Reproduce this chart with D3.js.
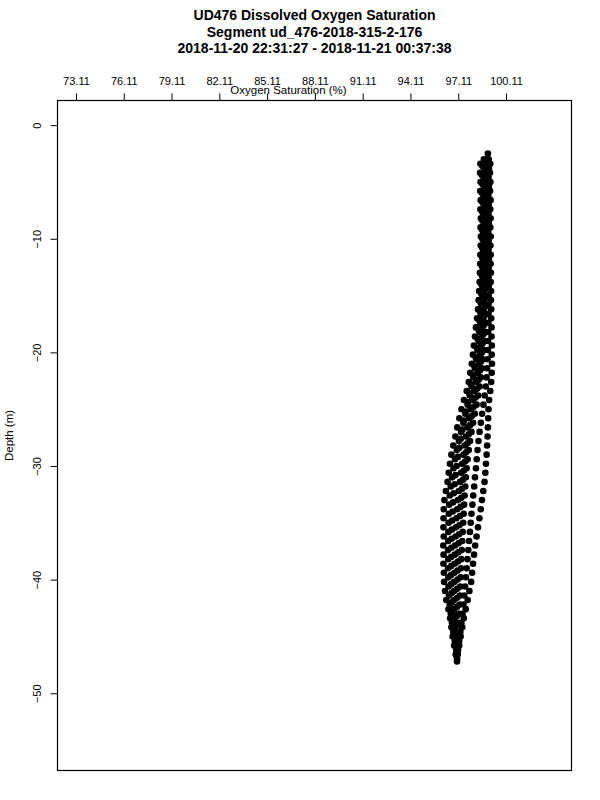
<!DOCTYPE html>
<html>
<head>
<meta charset="utf-8">
<script src="https://cdn.jsdelivr.net/npm/d3@7"></script>
<style>
  body { margin: 0; background: #fff; }
  svg { font-family: "Liberation Sans", Arial, Helvetica, sans-serif; }
  .axis text { font-size: 11px; fill: #000; }
  .axis line { stroke: #000; }
</style>
</head>
<body>
<script>
var width = 600;
var height = 800;
var margin = {top: 100.5, right: 28.5, bottom: 29.5, left: 57.5};

var titleLines = ["UD476 Dissolved Oxygen Saturation",
                  "Segment ud_476-2018-315-2-176",
                  "2018-11-20 22:31:27 - 2018-11-21 00:37:38"];
var xLabel = "Oxygen Saturation (%)";
var yLabel = "Depth (m)";
var xTicks = [73.11, 76.11, 79.11, 82.11, 85.11, 88.11, 91.11, 94.11, 97.11, 100.11];
var yTicks = [0, -10, -20, -30, -40, -50];
var xRange = [71.95, 104.22];
var yRange = [2.17, -56.8];

// each cast: [depth, saturation]
var castA = [[-3.4,98.50],[-4.2,98.48],[-5.0,98.51],[-5.8,98.49],[-6.6,98.52],[-7.4,98.50],[-8.2,98.53],[-9.0,98.51],
  [-9.8,98.53],[-10.6,98.52],[-11.4,98.50],[-12.2,98.49],[-13.0,98.47],[-13.8,98.45],[-14.6,98.42],[-15.4,98.39],
  [-16.2,98.35],[-17.0,98.29],[-17.8,98.22],[-18.6,98.16],[-19.4,98.09],[-20.2,98.03],[-21.0,97.96],[-21.8,97.86],
  [-22.6,97.77],[-23.4,97.64],[-24.2,97.47],[-25.0,97.31],[-25.8,97.18],[-26.6,97.05],[-27.4,96.93],[-28.2,96.80],
  [-29.0,96.68],[-29.8,96.59],[-30.6,96.51],[-31.4,96.44],[-32.2,96.33],[-33.0,96.24],[-33.8,96.20],[-34.6,96.19],
  [-35.4,96.18],[-36.2,96.20],[-37.0,96.17],[-37.8,96.19],[-38.6,96.18],[-39.4,96.21],[-40.2,96.22],[-41.0,96.28],
  [-41.8,96.36],[-42.6,96.50],[-43.4,96.60],[-44.2,96.68],[-45.0,96.76],[-45.8,96.85],[-46.6,96.95],[-47.2,97.03]];

var castB = [[-3.0,98.72],[-3.8,98.74],[-4.6,98.71],[-5.4,98.73],[-6.2,98.70],[-7.0,98.72],[-7.8,98.69],[-8.6,98.71],
  [-9.4,98.68],[-10.2,98.70],[-11.0,98.68],[-11.8,98.67],[-12.6,98.66],[-13.4,98.65],[-14.2,98.63],[-15.0,98.61],
  [-15.8,98.57],[-16.6,98.53],[-17.4,98.49],[-18.2,98.45],[-19.0,98.39],[-19.8,98.32],[-20.6,98.25],[-21.4,98.16],
  [-22.2,98.06],[-23.0,97.95],[-23.8,97.83],[-24.6,97.70],[-25.4,97.56],[-26.2,97.43],[-27.0,97.29],[-27.8,97.15],
  [-28.6,97.02],[-29.4,96.91],[-30.2,96.81],[-31.0,96.72],[-31.8,96.64],[-32.6,96.58],[-33.4,96.54],[-34.2,96.52],
  [-35.0,96.50],[-35.8,96.49],[-36.6,96.48],[-37.4,96.47],[-38.2,96.48],[-39.0,96.47],[-39.8,96.49],[-40.6,96.50],
  [-41.4,96.53],[-42.2,96.58],[-43.0,96.64],[-43.8,96.71],[-44.6,96.80],[-45.4,96.89],[-46.2,96.98]];

var castC = [[-3.4,98.84],[-4.2,98.82],[-5.0,98.84],[-5.8,98.81],[-6.6,98.83],[-7.4,98.80],[-8.2,98.82],[-9.0,98.79],
  [-9.8,98.81],[-10.6,98.79],[-11.4,98.78],[-12.2,98.78],[-13.0,98.77],[-13.8,98.76],[-14.6,98.75],[-15.4,98.73],
  [-16.2,98.70],[-17.0,98.67],[-17.8,98.63],[-18.6,98.59],[-19.4,98.54],[-20.2,98.49],[-21.0,98.42],[-21.8,98.34],
  [-22.6,98.24],[-23.4,98.12],[-24.2,98.00],[-25.0,97.89],[-25.8,97.78],[-26.6,97.69],[-27.4,97.60],[-28.2,97.52],
  [-29.0,97.44],[-29.8,97.36],[-30.6,97.29],[-31.4,97.22],[-32.2,97.15],[-33.0,97.09],[-33.8,97.04],[-34.6,97.00],
  [-35.4,96.97],[-36.2,96.94],[-37.0,96.91],[-37.8,96.89],[-38.6,96.88],[-39.4,96.87],[-40.2,96.86],[-41.0,96.85],
  [-41.8,96.85],[-42.6,96.86],[-43.4,96.88],[-44.2,96.91],[-45.0,96.95],[-45.8,96.99],[-46.6,97.03]];

var castD = [[-2.5,98.97],[-3.0,98.95],[-3.8,98.93],[-4.6,98.95],[-5.4,98.92],[-6.2,98.94],[-7.0,98.91],[-7.8,98.93],
  [-8.6,98.90],[-9.4,98.92],[-10.2,98.90],[-11.0,98.89],[-11.8,98.89],[-12.6,98.88],[-13.4,98.88],[-14.2,98.87],
  [-15.0,98.86],[-15.8,98.85],[-16.6,98.83],[-17.4,98.81],[-18.2,98.79],[-19.0,98.75],[-19.8,98.70],[-20.6,98.65],
  [-21.4,98.59],[-22.2,98.52],[-23.0,98.45],[-23.8,98.36],[-24.6,98.26],[-25.4,98.15],[-26.2,98.04],[-27.0,97.94],
  [-27.8,97.85],[-28.6,97.77],[-29.4,97.70],[-30.2,97.64],[-31.0,97.59],[-31.8,97.55],[-32.6,97.51],[-33.4,97.48],
  [-34.2,97.45],[-35.0,97.42],[-35.8,97.39],[-36.6,97.36],[-37.4,97.33],[-38.2,97.30],[-39.0,97.28],[-39.8,97.26],
  [-40.6,97.24],[-41.4,97.22],[-42.2,97.20],[-43.0,97.17],[-43.8,97.14],[-44.6,97.11],[-45.4,97.09],[-46.2,97.06],
  [-47.0,97.04]];

var castE = [[-3.4,99.12],[-4.2,99.10],[-5.0,99.13],[-5.8,99.11],[-6.6,99.14],[-7.4,99.12],[-8.2,99.14],[-9.0,99.12],
  [-9.8,99.15],[-10.6,99.13],[-11.4,99.15],[-12.2,99.14],[-13.0,99.16],[-13.8,99.15],[-14.6,99.17],[-15.4,99.16],
  [-16.2,99.18],[-17.0,99.18],[-17.8,99.20],[-18.6,99.20],[-19.4,99.22],[-20.2,99.21],[-21.0,99.23],[-21.8,99.21],
  [-22.6,99.18],[-23.4,99.12],[-24.2,99.05],[-25.0,99.01],[-25.8,98.99],[-26.6,98.97],[-27.4,98.95],[-28.2,98.92],
  [-29.0,98.89],[-29.8,98.85],[-30.6,98.81],[-31.4,98.76],[-32.2,98.68],[-33.0,98.60],[-33.8,98.52],[-34.6,98.44],
  [-35.4,98.35],[-36.2,98.26],[-37.0,98.17],[-37.8,98.10],[-38.6,98.04],[-39.4,97.98],[-40.2,97.92],[-41.0,97.81],
  [-41.8,97.70],[-42.6,97.58],[-43.4,97.46],[-44.2,97.36],[-45.0,97.26],[-45.8,97.17],[-46.6,97.08]];

var castF = [[-3.0,99.02],[-3.8,99.04],[-4.6,99.01],[-5.4,99.03],[-6.2,99.00],[-7.0,99.02],[-7.8,99.01],[-8.6,99.03],
  [-9.4,99.00],[-10.2,99.02],[-11.0,99.01],[-11.8,99.03],[-12.6,99.02],[-13.4,99.01],[-14.2,99.03],[-15.0,99.02],
  [-15.8,99.01],[-16.6,99.01],[-17.4,99.00],[-18.2,98.99],[-19.0,98.98],[-19.8,98.97],[-20.6,98.95],[-21.4,98.92],
  [-22.2,98.89],[-23.0,98.84],[-23.8,98.77],[-24.6,98.69],[-25.4,98.61],[-26.2,98.53],[-27.0,98.45],[-27.8,98.38],
  [-28.6,98.32],[-29.4,98.27],[-30.2,98.22],[-31.0,98.16],[-31.8,98.11],[-32.6,98.05],[-33.4,98.00],[-34.2,97.94],
  [-35.0,97.89],[-35.8,97.84],[-36.6,97.79],[-37.4,97.74],[-38.2,97.69],[-39.0,97.64],[-39.8,97.59],[-40.6,97.54],
  [-41.4,97.49],[-42.2,97.44],[-43.0,97.38],[-43.8,97.31],[-44.6,97.24],[-45.4,97.17],[-46.2,97.10]];

var castG = [[-3.2,98.90],[-4.0,98.88],[-4.8,98.90],[-5.6,98.87],[-6.4,98.89],[-7.2,98.86],[-8.0,98.88],[-8.8,98.85],
  [-9.6,98.87],[-10.4,98.85],[-11.2,98.84],[-12.0,98.84],[-12.8,98.83],[-13.6,98.82],[-14.4,98.81],[-15.2,98.80],
  [-16.0,98.78],[-16.8,98.75],[-17.6,98.72],[-18.4,98.69],[-19.2,98.65],[-20.0,98.60],[-20.8,98.54],[-21.6,98.47],
  [-22.4,98.39],[-23.2,98.29],[-24.0,98.18],[-24.8,98.07],[-25.6,97.96],[-26.4,97.86],[-27.2,97.77],[-28.0,97.69],
  [-28.8,97.61],[-29.6,97.54],[-30.4,97.47],[-31.2,97.41],[-32.0,97.35],[-32.8,97.30],[-33.6,97.26],[-34.4,97.22],
  [-35.2,97.19],[-36.0,97.16],[-36.8,97.13],[-37.6,97.11],[-38.4,97.09],[-39.2,97.07],[-40.0,97.06],[-40.8,97.05],
  [-41.6,97.04],[-42.4,97.03],[-43.2,97.03],[-44.0,97.02],[-44.8,97.02],[-45.6,97.03],[-46.4,97.03]];

var castH = [[-3.6,98.62],[-4.4,98.60],[-5.2,98.63],[-6.0,98.61],[-6.8,98.63],[-7.6,98.60],[-8.4,98.62],[-9.2,98.60],
  [-10.0,98.62],[-10.8,98.61],[-11.6,98.60],[-12.4,98.59],[-13.2,98.58],[-14.0,98.56],[-14.8,98.54],[-15.6,98.51],
  [-16.4,98.47],[-17.2,98.43],[-18.0,98.38],[-18.8,98.33],[-19.6,98.27],[-20.4,98.20],[-21.2,98.12],[-22.0,98.03],
  [-22.8,97.93],[-23.6,97.82],[-24.4,97.70],[-25.2,97.59],[-26.0,97.48],[-26.8,97.37],[-27.6,97.27],[-28.4,97.18],
  [-29.2,97.09],[-30.0,97.01],[-30.8,96.94],[-31.6,96.88],[-32.4,96.83],[-33.2,96.79],[-34.0,96.76],[-34.8,96.73],
  [-35.6,96.71],[-36.4,96.69],[-37.2,96.68],[-38.0,96.67],[-38.8,96.67],[-39.6,96.66],[-40.4,96.67],[-41.2,96.68],
  [-42.0,96.71],[-42.8,96.75],[-43.6,96.80],[-44.4,96.85],[-45.2,96.91],[-46.0,96.97],[-46.8,97.02]];

var casts = [castA, castB, castC, castD, castE, castF, castG, castH];

var svg = d3.select("body").append("svg")
    .attr("width", width)
    .attr("height", height);

var x = d3.scaleLinear()
    .domain(xRange)
    .range([margin.left, width - margin.right]);

var y = d3.scaleLinear()
    .domain(yRange)
    .range([margin.top, height - margin.bottom]);

//title
svg.append("g").selectAll("text")
    .data(titleLines)
  .enter().append("text")
    .attr("x", 314.5)
    .attr("y", function(d, i) { return 20 + i * 16.5; })
    .attr("text-anchor", "middle")
    .style("font-size", "14px")
    .style("font-weight", "bold")
    .text(function(d) { return d; });

//top axis
var xAxis = d3.axisTop(x)
    .tickValues(xTicks)
    .tickSize(7)
    .tickPadding(9)
    .tickFormat(function(d) { return d.toFixed(2); });

svg.append("g")
    .attr("class", "axis")
    .attr("transform", "translate(0," + margin.top + ")")
    .call(xAxis)
    .call(function(g) { g.select(".domain").remove(); })
    .selectAll("text").style("font-family", null);

svg.append("text")
    .attr("x", 288.5)
    .attr("y", 94)
    .attr("text-anchor", "middle")
    .style("font-size", "11.5px")
    .text(xLabel);

//left axis, labels rotated like R
var yAxis = d3.axisLeft(y)
    .tickValues(yTicks)
    .tickSize(7);

svg.append("g")
    .attr("class", "axis")
    .attr("transform", "translate(" + margin.left + ",0)")
    .call(yAxis)
    .call(function(g) { g.select(".domain").remove(); })
    .selectAll("text")
      .attr("x", null)
      .attr("dy", null)
      .attr("text-anchor", "middle")
      .attr("transform", "translate(-17,0) rotate(-90)");

svg.append("text")
    .attr("transform", "translate(13," + ((margin.top + height - margin.bottom) / 2) + ") rotate(-90)")
    .attr("text-anchor", "middle")
    .style("font-size", "11.5px")
    .text(yLabel);

//plot box
svg.append("rect")
    .attr("x", margin.left)
    .attr("y", margin.top)
    .attr("width", width - margin.left - margin.right)
    .attr("height", height - margin.top - margin.bottom)
    .style("fill", "none")
    .style("stroke", "#000")
    .style("stroke-width", 1.2);

//points
var points = [];
casts.forEach(function(c) { c.forEach(function(p) { points.push(p); }); });

svg.append("g").selectAll("circle")
    .data(points)
  .enter().append("circle")
    .attr("cx", function(d) { return x(d[1]); })
    .attr("cy", function(d) { return y(d[0]); })
    .attr("r", 3.3)
    .style("fill", "#000");
</script>
</body>
</html>
